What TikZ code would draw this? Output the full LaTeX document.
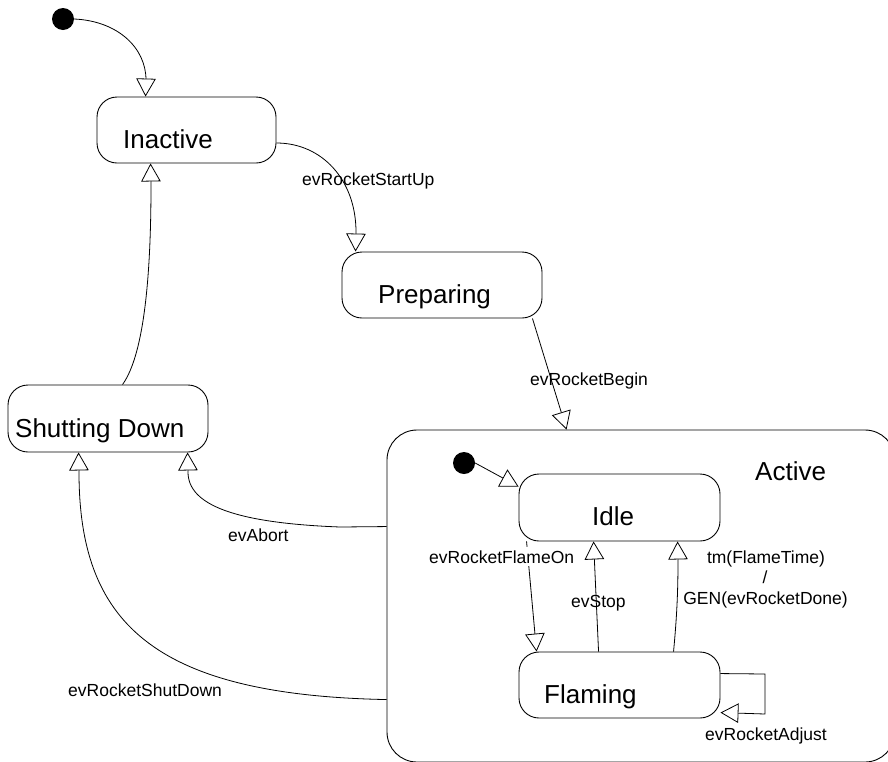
\documentclass[tikz,border=0pt]{standalone}
\usepackage{fontspec}
\setmainfont{Liberation Sans}
\usetikzlibrary{arrows.meta}

\tikzset{
  statebox/.style={draw, line width=0.9pt, rounded corners=20pt, inner sep=0pt, anchor=center},
  statename/.style={anchor=base west, inner sep=0pt, font=\fontsize{26}{30}\selectfont},
  evlabel/.style={anchor=base west, inner sep=0pt, font=\fontsize{17.5}{20}\selectfont},
  initdot/.style={circle, fill=black, inner sep=0pt, minimum size=22pt},
  trans/.style={line width=0.8pt, -{Triangle[length=18pt, width=19.5pt, fill=white, line width=0.8pt]}},
}

\begin{document}
\begin{tikzpicture}[x=1pt, y=-1pt]
  \useasboundingbox (0,0) rectangle (888,761);
  \clip (0,0) rectangle (888,761);

  % composite state (runs past the right and bottom edges)
  \node[statebox, rounded corners=30pt, minimum width=508pt, minimum height=332pt] (active) at (641,596) {};
  \node[statename] (activeT) at (755,480) {Active};

  % states
  \node[statebox, minimum width=179pt, minimum height=66pt] (inactive) at (186.5,130) {};
  \node[statename] (inactiveT) at (123,148) {Inactive};

  \node[statebox, minimum width=200pt, minimum height=66pt] (preparing) at (442,285) {};
  \node[statename] (preparingT) at (378,303) {Preparing};

  \node[statebox, minimum width=200pt, minimum height=67pt] (shutting) at (108,418.5) {};
  \node[statename] (shuttingT) at (15,437) {Shutting Down};

  \node[statebox, minimum width=201pt, minimum height=67pt] (idle) at (619.5,507.5) {};
  \node[statename] (idleT) at (592,525) {Idle};

  \node[statebox, minimum width=201pt, minimum height=66pt] (flaming) at (619.5,685) {};
  \node[statename] (flamingT) at (544,703) {Flaming};

  % initial pseudo-states
  \node[initdot] (init) at (63,19) {};
  \node[initdot] (initA) at (464,463) {};

  % top-level transitions
  \draw[trans] (init.east) .. controls (118,21) and (146,48) .. (146,80)
    -- ([xshift=49pt]inactive.north west);

  \draw[trans] ([yshift=-13pt]inactive.east) .. controls (322,143) and (356,180) .. (356,232)
    -- ([xshift=14pt]preparing.north west);
  \node[evlabel] (lStart) at (302,185) {evRocketStartUp};

  \draw[trans] ([xshift=-10pt]preparing.south east) -- ([xshift=180pt]active.north west);
  \node[evlabel] (lBegin) at (530,385) {evRocketBegin};

  \draw[trans] ([xshift=115pt]shutting.north west) .. controls (140,360) and (151,300) .. (151,185)
    -- ([xshift=54pt]inactive.south west);

  \draw[trans] ([yshift=-97pt]active.north west) -- (340,527)
    .. controls (235,523) and (188,505) .. (188,472) -- ([xshift=180pt]shutting.south west);
  \node[evlabel] (lAbort) at (228,541) {evAbort};

  \draw[trans] ([yshift=-270pt]active.north west)
    .. controls (150,695) and (79,620) .. (79,472) -- ([xshift=71pt]shutting.south west);
  \node[evlabel] (lShut) at (68,696) {evRocketShutDown};

  % transitions inside Active
  \draw[trans] (initA.east) -- ([yshift=-13pt]idle.north west);

  \draw[trans] ([xshift=8pt]idle.south west) -- ([xshift=18pt]flaming.north west);
  \node[evlabel, fill=white, inner sep=3pt] (lFlameOn) at (426,563) {evRocketFlameOn};

  \draw[trans] ([xshift=80pt]flaming.north west) -- ([xshift=75pt]idle.south west);
  \node[evlabel] (lStop) at (571,607) {evStop};

  \draw[trans] ([xshift=155pt]flaming.north west) .. controls (677,615) and (678,590) .. (678,560)
    -- ([xshift=159pt]idle.south west);
  \node[evlabel, anchor=base] (lTmA) at (766,563) {tm(FlameTime)};
  \node[evlabel, anchor=base] (lTmB) at (765,583) {/};
  \node[evlabel, anchor=base] (lTmC) at (765.5,604) {GEN(evRocketDone)};

  \draw[trans] ([yshift=-22pt]flaming.north east) -- (765,674) -- (765,714)
    -- ([yshift=-61pt]flaming.north east);
  \node[evlabel] (lAdjust) at (705,740) {evRocketAdjust};
\end{tikzpicture}
\end{document}
